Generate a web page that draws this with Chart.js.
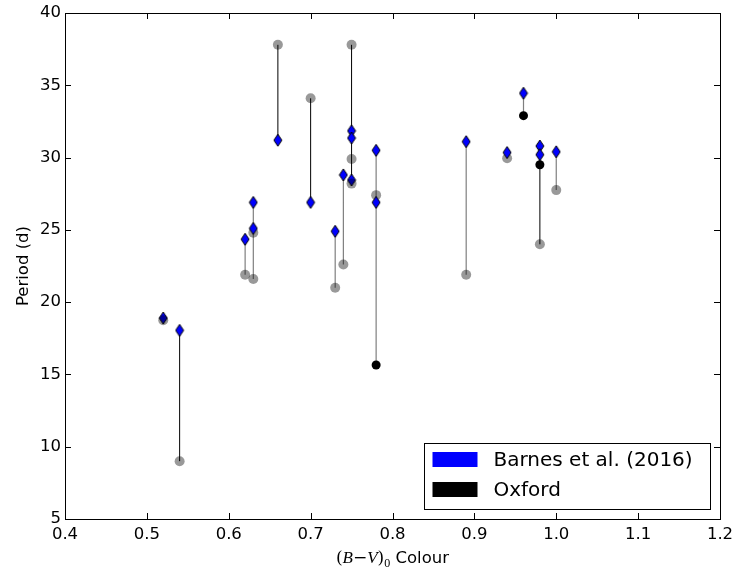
<!DOCTYPE html>
<html>
<head>
<meta charset="utf-8">
<script src="https://cdn.jsdelivr.net/npm/chart.js@4.4.1/dist/chart.umd.min.js"></script>
<style>
  body { margin: 0; background: #fff; }
  canvas { display: block; }
</style>
</head>
<body>
<canvas id="chart" width="737" height="574"></canvas>
<script>
// Barnes et al. (2016) periods
const barnesX = [0.52, 0.54, 0.62, 0.63, 0.63, 0.66, 0.70, 0.73, 0.74, 0.75, 0.75, 0.75, 0.78, 0.78, 0.89, 0.94, 0.96, 0.98, 0.98, 1.00];
const barnesY = [18.9, 18.05, 24.35, 26.9, 25.1, 31.2, 26.9, 24.9, 28.8, 31.85, 31.35, 28.45, 30.5, 26.9, 31.1, 30.35, 34.45, 30.8, 30.2, 30.4];

// Oxford periods
const oxfordX = [0.78, 0.96, 0.98];
const oxfordY = [15.65, 32.9, 29.5];

// earlier literature periods (grey)
const prevX = [0.52, 0.54, 0.62, 0.63, 0.63, 0.66, 0.70, 0.73, 0.74, 0.75, 0.75, 0.75, 0.78, 0.89, 0.94, 0.98, 1.00];
const prevY = [18.75, 9.0, 21.9, 24.8, 21.6, 37.8, 34.1, 21.0, 22.6, 37.8, 29.9, 28.2, 27.4, 21.9, 29.95, 24.0, 27.75];
// grey points that sit over the diamond
const prevOnTop = [0, 11];

// connecting lines: [x, from, to]
const linksDark = [[0.52, 18.75, 18.9], [0.54, 9.0, 18.05], [0.66, 31.2, 37.8], [0.70, 26.9, 34.1], [0.75, 28.2, 37.8], [0.98, 24.0, 30.8]];
const linksGrey = [[0.62, 21.9, 24.35], [0.63, 21.6, 26.9], [0.73, 21.0, 24.9], [0.74, 22.6, 28.8], [0.78, 15.65, 30.5], [0.89, 21.9, 31.1], [0.94, 29.95, 30.35], [0.96, 32.9, 34.45], [1.00, 27.75, 30.4]];

const FONT = "'DejaVu Sans', sans-serif";

function pts(xs, ys) {
  return xs.map((x, i) => ({ x: x, y: ys[i] }));
}
function segs(list) {
  const out = [];
  list.forEach(s => {
    out.push({ x: s[0], y: s[1] }, { x: s[0], y: s[2] }, { x: s[0], y: null });
  });
  return out;
}

function thinDiamond(w, h) {
  const c = document.createElement("canvas");
  c.width = w + 2;
  c.height = h + 2;
  const g = c.getContext("2d");
  g.beginPath();
  g.moveTo(c.width / 2, 1);
  g.lineTo(c.width - 1, c.height / 2);
  g.lineTo(c.width / 2, c.height - 1);
  g.lineTo(1, c.height / 2);
  g.closePath();
  g.fillStyle = "#0000ff";
  g.fill();
  g.strokeStyle = "#000";
  g.lineWidth = 1;
  g.stroke();
  return c;
}

const prevBelow = pts(prevX, prevY).filter((p, i) => prevOnTop.indexOf(i) < 0);
const prevAbove = pts(prevX, prevY).filter((p, i) => prevOnTop.indexOf(i) >= 0);

const framePlugin = {
  id: "frame",
  afterDraw(chart) {
    const ctx = chart.ctx;
    const a = chart.chartArea;
    const xs = chart.scales.x, ys = chart.scales.y;
    ctx.save();
    ctx.strokeStyle = "#000";
    ctx.lineWidth = 1;
    ctx.strokeRect(Math.round(a.left) + 0.5, Math.round(a.top) + 0.5,
      Math.round(a.right - a.left), Math.round(a.bottom - a.top));
    // inward ticks on all four sides
    ctx.beginPath();
    xs.ticks.forEach(t => {
      const px = Math.round(xs.getPixelForValue(t.value)) + 0.5;
      ctx.moveTo(px, a.bottom); ctx.lineTo(px, a.bottom - 6);
      ctx.moveTo(px, a.top); ctx.lineTo(px, a.top + 6);
    });
    ys.ticks.forEach(t => {
      const py = Math.round(ys.getPixelForValue(t.value)) + 0.5;
      ctx.moveTo(a.left, py); ctx.lineTo(a.left + 6, py);
      ctx.moveTo(a.right, py); ctx.lineTo(a.right - 6, py);
    });
    ctx.stroke();

    // legend, lower right inside the axes
    const bw = 286, bh = 66;
    const bx = Math.round(a.right - 10 - bw) + 0.5;
    const by = Math.round(a.bottom - 10 - bh) + 0.5;
    ctx.fillStyle = "#fff";
    ctx.fillRect(bx, by, bw, bh);
    ctx.strokeRect(bx, by, bw, bh);
    const entries = [
      { label: chart.data.datasets[0].label, color: "#0000ff" },
      { label: chart.data.datasets[1].label, color: "#000000" }
    ];
    ctx.font = "20px " + FONT;
    ctx.textBaseline = "middle";
    ctx.textAlign = "left";
    entries.forEach((e, i) => {
      const cy = by + 16 + i * 30;
      ctx.fillStyle = e.color;
      ctx.fillRect(bx + 8, cy - 7.5, 45, 15);
      ctx.fillStyle = "#000";
      ctx.fillText(e.label, bx + 69, cy + 1);
    });

    // x axis title with math-style (B-V)_0
    const parts = [
      { t: "(", f: "17px 'DejaVu Serif', serif", dy: 0 },
      { t: "B", f: "italic 17px 'Liberation Serif', serif", dy: 0 },
      { t: "\u2212", f: "17px 'DejaVu Serif', serif", dy: 0 },
      { t: "V", f: "italic 17px 'Liberation Serif', serif", dy: 0 },
      { t: ")", f: "17px 'DejaVu Serif', serif", dy: 0 },
      { t: "0", f: "12px 'Liberation Serif', serif", dy: 4 },
      { t: " Colour", f: "16.5px " + FONT, dy: 0 }
    ];
    let total = 0;
    parts.forEach(p => { ctx.font = p.f; p.w = ctx.measureText(p.t).width; total += p.w; });
    let x0 = (a.left + a.right) / 2 - total / 2;
    const base = 563;
    ctx.textBaseline = "alphabetic";
    ctx.fillStyle = "#000";
    parts.forEach(p => {
      ctx.font = p.f;
      ctx.fillText(p.t, x0, base + p.dy);
      x0 += p.w;
    });
    ctx.restore();
  }
};

new Chart(document.getElementById("chart"), {
  type: "scatter",
  data: {
    datasets: [
      {
        label: "Barnes et al. (2016)",
        data: pts(barnesX, barnesY),
        pointStyle: thinDiamond(8, 12),
        pointRadius: 6,
        order: 2
      },
      {
        label: "Oxford",
        data: pts(oxfordX, oxfordY),
        backgroundColor: "#000",
        borderWidth: 0,
        pointRadius: 4.5,
        order: 3
      },
      {
        label: "previous",
        data: prevBelow,
        backgroundColor: "rgba(0,0,0,0.4)",
        borderWidth: 0,
        pointRadius: 5,
        order: 4
      },
      {
        label: "previous top",
        data: prevAbove,
        backgroundColor: "rgba(0,0,0,0.4)",
        borderWidth: 0,
        pointRadius: 5,
        order: 1
      },
      {
        label: "links",
        data: segs(linksDark),
        showLine: true,
        spanGaps: false,
        borderColor: "#000",
        borderWidth: 1,
        pointRadius: 0,
        order: 5
      },
      {
        label: "links grey",
        data: segs(linksGrey),
        showLine: true,
        spanGaps: false,
        borderColor: "rgba(0,0,0,0.5)",
        borderWidth: 1.2,
        pointRadius: 0,
        order: 6
      }
    ]
  },
  options: {
    responsive: false,
    animation: false,
    devicePixelRatio: 1,
    layout: { padding: { top: 13, right: 17, left: 0, bottom: 0 } },
    plugins: {
      legend: { display: false },
      tooltip: { enabled: false }
    },
    scales: {
      x: {
        type: "linear",
        min: 0.4,
        max: 1.2,
        grid: { display: false, drawTicks: false },
        border: { display: false },
        ticks: {
          stepSize: 0.1,
          autoSkip: false,
          maxRotation: 0,
          padding: 6,
          color: "#000",
          font: { family: FONT, size: 16.5 },
          callback: v => Number(v).toFixed(1)
        },
        afterFit: s => { s.height = 55; s.paddingLeft = 0; s.paddingRight = 0; }
      },
      y: {
        min: 5,
        max: 40,
        grid: { display: false, drawTicks: false },
        border: { display: false },
        ticks: {
          stepSize: 5,
          autoSkip: false,
          padding: 4,
          color: "#000",
          font: { family: FONT, size: 16.5 }
        },
        title: {
          display: true,
          text: "Period (d)",
          color: "#000",
          font: { family: FONT, size: 16.5 },
          padding: { top: 14, bottom: 0 }
        },
        afterFit: s => { s.width = 65; s.paddingTop = 0; s.paddingBottom = 0; }
      }
    }
  },
  plugins: [framePlugin]
});
</script>
</body>
</html>
